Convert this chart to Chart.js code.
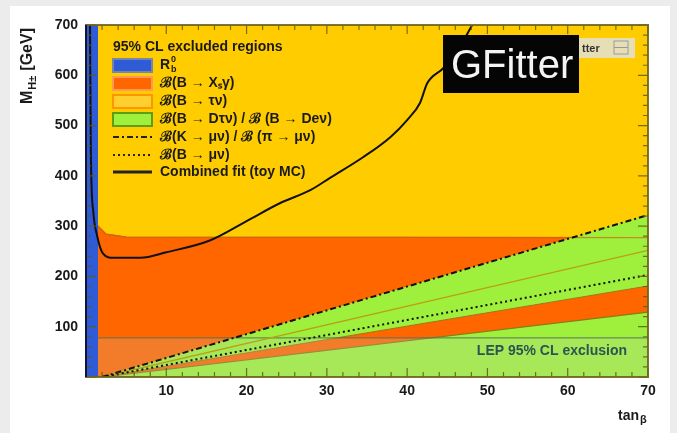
<!DOCTYPE html>
<html>
<head>
<meta charset="utf-8">
<script src="https://cdn.jsdelivr.net/npm/chart.js@4.4.1/dist/chart.umd.min.js"></script>
<style>
  html, body { margin: 0; padding: 0; background: #ebebeb; }
  canvas { display: block; }
</style>
</head>
<body>
<canvas id="myChart" width="677" height="433"></canvas>
<script>
// axes
const xTicks = [10, 20, 30, 40, 50, 60, 70]
const yTicks = [100, 200, 300, 400, 500, 600, 700]

// excluded regions (tan beta, M_H+ in GeV)
const tauNuX = [0, 70]
const tauNuY = [700, 700]
const bsgX = [0, 1.5, 2.5, 5, 70]
const bsgY = [330, 300, 284, 278, 277]
const dtnHighX = [2, 70]
const dtnHighY = [0, 322]
const dtnGapX = [2, 70]
const dtnGapY = [0, 181]
const dtnLowX = [2, 70]
const dtnLowY = [0, 129]
const rbX = [0, 1.5]
const rbY = [700, 700]
const lepX = [0, 70]
const lepY = [78, 78]

// boundary lines
const kmunuX = [2, 70]
const kmunuY = [0, 322]
const bmunuX = [2, 70]
const bmunuY = [0, 203]
const tauEdgeX = [2, 70]
const tauEdgeY = [0, 252]
const fitX = [0.5, 0.6, 0.9, 1.4, 2.1, 3.4, 6.8, 10, 15.5, 20, 24.2, 28, 30.4, 34.5, 37.9, 40, 41.6, 42.5, 44.5, 46.5, 48.1]
const fitY = [700, 450, 330, 280, 246, 237, 237, 248, 272, 310, 346, 372, 396, 437, 477, 511, 545, 584, 614, 655, 700]

const legendTitle = "95% CL excluded regions"
const legendLabels = ["R", "ℬ(B → Xₛγ)", "ℬ(B → τν)", "ℬ(B → Dτν) / ℬ (B → Deν)", "ℬ(K → μν) / ℬ (π → μν)", "ℬ(B → μν)", "Combined fit (toy MC)"]

const YELLOW = "#ffcc00"
const ORANGE = "#ff6600"
const GREEN = "#9ef03c"
const BLUE = "#2f5bd6"

const pts = (xs, ys) => xs.map((x, i) => ({ x: x, y: ys[i] }))

const region = (label, xs, ys, color, edge, order) => ({
  label: label,
  data: pts(xs, ys),
  backgroundColor: color,
  borderColor: edge,
  borderWidth: 1.2,
  fill: "origin",
  pointRadius: 0,
  order: order,
})

const line = (label, xs, ys, color, width, dash, order) => ({
  label: label,
  data: pts(xs, ys),
  borderColor: color,
  borderWidth: width,
  borderDash: dash,
  fill: false,
  pointRadius: 0,
  order: order,
})

const datasets = [
  region("tau nu", tauNuX, tauNuY, YELLOW, "rgba(0,0,0,0)", 20),
  region("bsg", bsgX, bsgY, ORANGE, "#e25200", 19),
  region("Dtaunu high", dtnHighX, dtnHighY, GREEN, "rgba(0,0,0,0)", 18),
  region("Dtaunu gap", dtnGapX, dtnGapY, ORANGE, "#a8741a", 17),
  region("Dtaunu low", dtnLowX, dtnLowY, GREEN, "#8a7a18", 16),
  line("bsg edge", bsgX, bsgY, "rgba(200,110,20,0.75)", 1.3, [], 15.5),
  region("LEP", lepX, lepY, "rgba(200,205,190,0.22)", "rgba(80,110,80,0.75)", 15),
  region("Rb", rbX, rbY, BLUE, "rgba(0,0,0,0)", 14),
  line("tau nu edge", tauEdgeX, tauEdgeY, "#b8a018", 1.3, [], 5),
  line("B mu nu", bmunuX, bmunuY, "#111", 2, [2, 3], 4),
  line("K mu nu", kmunuX, kmunuY, "#111", 2, [6, 3, 2, 3], 3),
  {
    label: "Combined fit",
    data: pts(fitX, fitY),
    borderColor: "#111",
    borderWidth: 2,
    fill: false,
    pointRadius: 0,
    cubicInterpolationMode: "monotone",
    order: 1,
  },
]

const panel = {
  id: "panel",
  beforeDraw(chart) {
    const ctx = chart.ctx
    ctx.save()
    ctx.fillStyle = "#ececec"
    ctx.fillRect(0, 0, chart.width, chart.height)
    ctx.fillStyle = "#ffffff"
    ctx.fillRect(10, 6, 660, 427)
    ctx.restore()
  },
}

const frameTicks = {
  id: "frameTicks",
  afterDatasetsDraw(chart) {
    const { ctx, chartArea: a, scales: { x, y } } = chart
    ctx.save()
    ctx.strokeStyle = "rgba(95,90,20,0.85)"
    ctx.lineWidth = 1.2
    ctx.beginPath()
    for (let v = 0; v <= 70; v += 2) {
      const px = x.getPixelForValue(v)
      const len = v % 10 === 0 ? 9 : 5
      ctx.moveTo(px, a.bottom)
      ctx.lineTo(px, a.bottom - len)
      ctx.moveTo(px, a.top)
      ctx.lineTo(px, a.top + len)
    }
    for (let v = 0; v <= 700; v += 20) {
      const py = y.getPixelForValue(v)
      const len = v % 100 === 0 ? 10 : 5
      ctx.moveTo(a.left, py)
      ctx.lineTo(a.left + len, py)
      ctx.moveTo(a.right, py)
      ctx.lineTo(a.right - len, py)
    }
    ctx.stroke()
    ctx.lineWidth = 2
    ctx.strokeStyle = "rgba(110,100,30,0.9)"
    ctx.strokeRect(a.left, a.top, a.right - a.left, a.bottom - a.top)
    ctx.strokeStyle = "#10143a"
    ctx.beginPath()
    ctx.moveTo(a.left, a.top)
    ctx.lineTo(a.left, a.bottom)
    ctx.stroke()

    // LEP label
    ctx.fillStyle = "#2a5552"
    ctx.font = "bold 14px 'Liberation Sans', Arial, sans-serif"
    ctx.textAlign = "right"
    ctx.textBaseline = "middle"
    ctx.fillText("LEP 95% CL exclusion", a.right - 21, y.getPixelForValue(52))
    ctx.restore()
  },
}

const legendBox = {
  id: "legendBox",
  afterDatasetsDraw(chart) {
    const ctx = chart.ctx
    const a = chart.chartArea
    const x0 = a.left + 27
    const tx = a.left + 74
    ctx.save()
    ctx.font = "bold 14px 'Liberation Sans', Arial, sans-serif"
    ctx.fillStyle = "#1a1a1a"
    ctx.textBaseline = "middle"
    ctx.fillText(legendTitle, x0, a.top + 22)
    const rows = [65, 83, 101, 119, 137, 155, 172].map((r) => r - 25 + a.top)
    const boxes = [
      [BLUE, "#7884a8"],
      [ORANGE, "#ff9a55"],
      ["#ffcf30", "#ff9600"],
      [GREEN, "#5f9e12"],
    ]
    boxes.forEach((b, i) => {
      ctx.fillStyle = b[0]
      ctx.strokeStyle = b[1]
      ctx.lineWidth = 2
      ctx.fillRect(x0, rows[i] - 6, 39, 13)
      ctx.strokeRect(x0, rows[i] - 6, 39, 13)
    })
    ctx.strokeStyle = "#222"
    const samples = [[6, 3, 2, 3], [2, 3], []]
    samples.forEach((d, i) => {
      ctx.setLineDash(d)
      ctx.lineWidth = i === 2 ? 3 : 2
      ctx.beginPath()
      ctx.moveTo(x0, rows[4 + i])
      ctx.lineTo(x0 + 39, rows[4 + i])
      ctx.stroke()
    })
    ctx.setLineDash([])
    ctx.fillStyle = "#1a1a1a"
    legendLabels.forEach((t, i) => {
      ctx.font = "bold 14px 'Liberation Sans', Arial, sans-serif"
      ctx.fillText(t, tx, rows[i])
      if (i === 0) {
        const w = ctx.measureText(t).width
        ctx.font = "bold 9px 'Liberation Sans', Arial, sans-serif"
        ctx.fillText("0", tx + w + 1, rows[i] - 5)
        ctx.fillText("b", tx + w + 1, rows[i] + 5)
      }
    })
    ctx.restore()
  },
}

const extras = {
  id: "extras",
  afterDraw(chart) {
    const ctx = chart.ctx
    const a = chart.chartArea
    ctx.save()
    // axis titles
    ctx.fillStyle = "#1a1a1a"
    ctx.textBaseline = "alphabetic"
    ctx.translate(32, a.top + 79)
    ctx.rotate(-Math.PI / 2)
    ctx.textAlign = "left"
    ctx.font = "bold 16px 'Liberation Sans', Arial, sans-serif"
    ctx.fillText("M", 0, 0)
    let w = ctx.measureText("M").width
    ctx.font = "bold 11px 'Liberation Sans', Arial, sans-serif"
    ctx.fillText("H±", w + 1, 4)
    w += ctx.measureText("H±").width + 6
    ctx.font = "bold 16px 'Liberation Sans', Arial, sans-serif"
    ctx.fillText("[GeV]", w, 0)
    ctx.setTransform(1, 0, 0, 1, 0, 0)

    ctx.font = "bold 14px 'Liberation Sans', Arial, sans-serif"
    ctx.textAlign = "right"
    ctx.fillText("tan", a.right - 9, 420)
    ctx.font = "bold 11px 'Liberation Sans', Arial, sans-serif"
    ctx.textAlign = "left"
    ctx.fillText("β", a.right - 8, 423)

    // GFitter logo
    ctx.fillStyle = "#050505"
    ctx.fillRect(443, 35, 136, 58)
    ctx.fillStyle = "#f4f4f4"
    ctx.font = "40px 'Liberation Sans', Arial, sans-serif"
    ctx.textAlign = "left"
    ctx.fillText("GFitter", 451, 78)
    ctx.fillStyle = "#e6dfb6"
    ctx.fillRect(579, 38, 56, 20)
    ctx.fillStyle = "#333"
    ctx.font = "bold 11px 'Liberation Sans', Arial, sans-serif"
    ctx.fillText("tter", 582, 52)
    ctx.strokeStyle = "#999"
    ctx.lineWidth = 1
    ctx.strokeRect(614, 41, 14, 13)
    ctx.beginPath()
    ctx.moveTo(614, 47.5)
    ctx.lineTo(628, 47.5)
    ctx.stroke()
    ctx.restore()
  },
}

const ctx = document.getElementById("myChart").getContext("2d")
new Chart(ctx, {
  type: "line",
  data: { datasets: datasets },
  options: {
    responsive: false,
    animation: false,
    layout: { padding: { left: 0, right: 29, top: 25, bottom: 0 } },
    plugins: {
      legend: { display: false },
      tooltip: { enabled: false },
    },
    scales: {
      x: {
        type: "linear",
        min: 0,
        max: 70,
        grid: { display: false, drawTicks: false },
        border: { display: false },
        afterBuildTicks: (s) => {
          s.ticks = xTicks.map((v) => ({ value: v }))
        },
        ticks: {
          padding: 6,
          maxRotation: 0,
          color: "#1a1a1a",
          font: { family: "'Liberation Sans', Arial, sans-serif", size: 14, weight: "bold" },
        },
        afterFit: (s) => {
          s.height = 56
        },
      },
      y: {
        type: "linear",
        min: 0,
        max: 700,
        grid: { display: false, drawTicks: false },
        border: { display: false },
        afterBuildTicks: (s) => {
          s.ticks = yTicks.map((v) => ({ value: v }))
        },
        ticks: {
          padding: 8,
          color: "#1a1a1a",
          font: { family: "'Liberation Sans', Arial, sans-serif", size: 14, weight: "bold" },
        },
        afterFit: (s) => {
          s.width = 86
        },
      },
    },
  },
  plugins: [panel, frameTicks, legendBox, extras],
})
</script>
</body>
</html>
